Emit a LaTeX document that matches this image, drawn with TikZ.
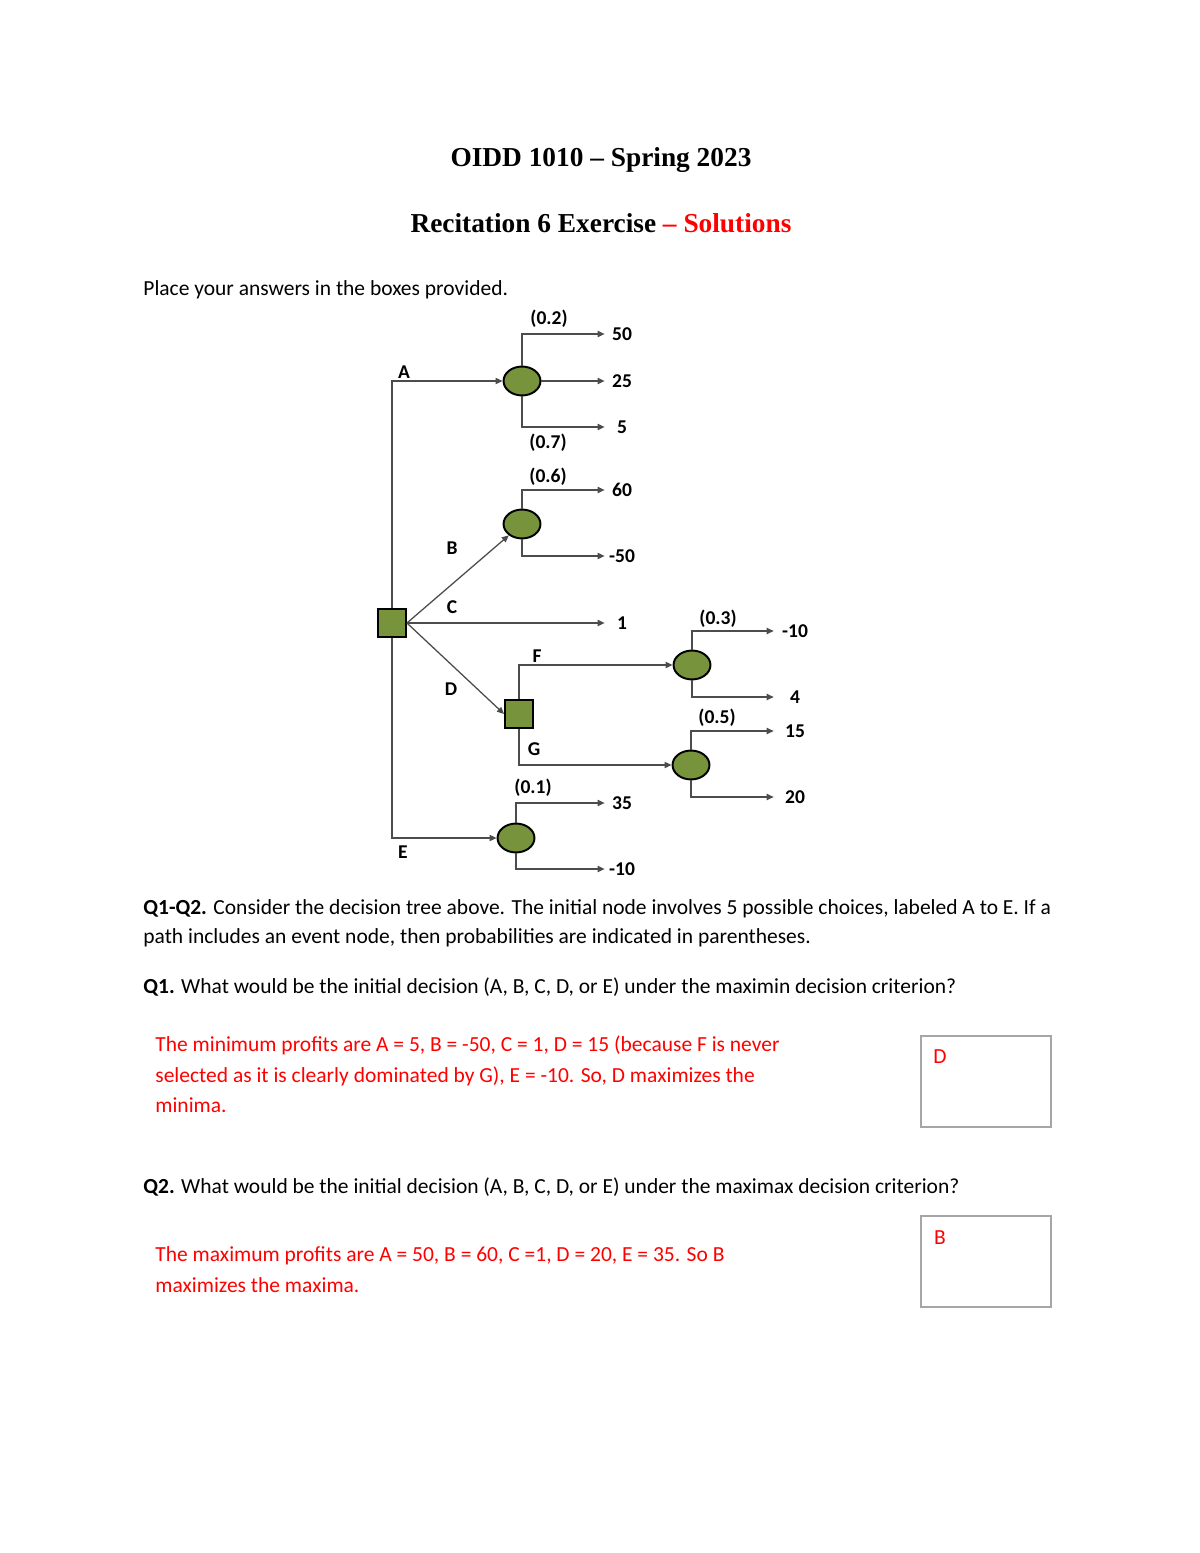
\documentclass[tikz,border=0pt]{standalone}
\usepackage{fontspec}
\setmainfont{Carlito}
\newfontfamily\titlefont{Liberation Serif}
\usetikzlibrary{positioning,arrows.meta,shapes.geometric}
\definecolor{treegreen}{RGB}{119,147,60}
\definecolor{treeline}{gray}{0.3}
\definecolor{boxgrey}{gray}{0.65}
\definecolor{solred}{RGB}{255,0,0}
\tikzset{
  decnode/.style={draw,line width=1pt,fill=treegreen,minimum size=14.3pt,inner sep=0pt},
  chnode/.style={draw,line width=1pt,fill=treegreen,ellipse,minimum width=18.9pt,
                 minimum height=14.8pt,inner sep=0pt},
  ln/.style={-{Triangle[length=3.6pt,width=3.2pt]},treeline,line width=0.65pt},
  pay/.style={font=\fontsize{10}{12}\selectfont\bfseries,minimum width=17.4pt,inner sep=1pt},
  payr/.style={pay,minimum width=21.4pt},
  prob/.style={font=\fontsize{10}{12}\selectfont\bfseries,inner sep=1pt},
  lbl/.style={font=\fontsize{10}{12}\selectfont\bfseries,inner sep=1pt},
  txt/.style={anchor=base west,font=\fontsize{11}{13}\selectfont,inner sep=0pt},
  soltxt/.style={txt,text=solred},
  ansbox/.style={draw=boxgrey,line width=1.2pt,anchor=north west,minimum width=66.3pt,
                 minimum height=46.4pt,inner sep=0pt},
}

\begin{document}
\begin{tikzpicture}[x=0.0179933cm,y=-0.0179933cm,
  head/.style={font=\titlefont\fontsize{14}{17}\selectfont\bfseries,inner sep=0pt}]
\useasboundingbox[fill=white] (0,0) rectangle (1200,1553);

\node[head] (title) at (601,160) {OIDD 1010 – Spring 2023};
\node[head] (subtitle) at (601,223) {Recitation 6 Exercise {\color{solred}– Solutions}};
\node[txt] (place) at (143,296) {Place your answers in the boxes provided.};

% decision tree
\node[decnode] (root) at (392,623) {};
\node[chnode] (chA) at (522,381) {};
\node[chnode] (chB) at (522,524) {};
\node[decnode] (sqD) at (519,714) {};
\node[chnode] (chF) at (692,665) {};
\node[chnode] (chG) at (691,765) {};
\node[chnode] (chE) at (516,838) {};

\node[pay] (oA1) at (622,334) {50};
\node[pay] (oA2) at (622,381) {25};
\node[pay] (oA3) at (622,427) {5};
\node[pay] (oB1) at (622,490) {60};
\node[pay] (oB2) at (622,556) {-50};
\node[pay] (oC)  at (622,623) {1};
\node[payr] (oF1) at (795,631) {-10};
\node[payr] (oF2) at (795,697) {4};
\node[payr] (oG1) at (795,731) {15};
\node[payr] (oG2) at (795,797) {20};
\node[pay] (oE1) at (622,803) {35};
\node[pay] (oE2) at (622,869) {-10};

\draw[ln] (root.north) |- (chA.west);
\draw[ln] (root.east) -- (chB);
\draw[ln] (root.east) -- (oC.west);
\draw[ln] (root.east) -- (sqD.west);
\draw[ln] (root.south) |- (chE.west);
\draw[ln] (chA.north) |- (oA1.west);
\draw[ln] (chA.east) -- (oA2.west);
\draw[ln] (chA.south) |- (oA3.west);
\draw[ln] (chB.north) |- (oB1.west);
\draw[ln] (chB.south) |- (oB2.west);
\draw[ln] (sqD.north) |- (chF.west);
\draw[ln] (sqD.south) |- (chG.west);
\draw[ln] (chF.north) |- (oF1.west);
\draw[ln] (chF.south) |- (oF2.west);
\draw[ln] (chG.north) |- (oG1.west);
\draw[ln] (chG.south) |- (oG2.west);
\draw[ln] (chE.north) |- (oE1.west);
\draw[ln] (chE.south) |- (oE2.west);

\node[lbl] (lA) at (404,372) {A};
\node[lbl] (lB) at (452,548) {B};
\node[lbl] (lC) at (452,607) {C};
\node[lbl] (lD) at (451,689) {D};
\node[lbl] (lE) at (403,852) {E};
\node[lbl] (lF) at (537,656) {F};
\node[lbl] (lG) at (534,749) {G};

\node[prob] (pA1) at (549,319) {(0.2)};
\node[prob] (pA3) at (548,443) {(0.7)};
\node[prob] (pB1) at (548,477) {(0.6)};
\node[prob] (pF1) at (718,619) {(0.3)};
\node[prob] (pG1) at (717,718) {(0.5)};
\node[prob] (pE1) at (533,788) {(0.1)};

% questions and answers
\node[txt] (intro1) at (143,914) {\textbf{Q1-Q2.} Consider the decision tree above. The initial node involves 5 possible choices, labeled A to E. If a};
\node[txt] (intro2) at (143,943) {path includes an event node, then probabilities are indicated in parentheses.};
\node[txt] (q1) at (143,993) {\textbf{Q1.} What would be the initial decision (A, B, C, D, or E) under the maximin decision criterion?};
\node[soltxt] (sol1a) at (155,1051) {The minimum profits are A = 5, B = -50, C = 1, D = 15 (because F is never};
\node[soltxt] (sol1b) at (155,1082) {selected as it is clearly dominated by G), E = -10. So, D maximizes the};
\node[soltxt] (sol1c) at (155,1112) {minima.};
\node[ansbox] (box1) at (920,1035) {};
\node[soltxt,anchor=center] (ans1) at (940,1057) {D};

\node[txt] (q2) at (143,1193) {\textbf{Q2.} What would be the initial decision (A, B, C, D, or E) under the maximax decision criterion?};
\node[soltxt] (sol2a) at (155,1261) {The maximum profits are A = 50, B = 60, C =1, D = 20, E = 35. So B};
\node[soltxt] (sol2b) at (155,1292) {maximizes the maxima.};
\node[ansbox] (box2) at (920,1215) {};
\node[soltxt,anchor=center] (ans2) at (940,1238) {B};

\end{tikzpicture}
\end{document}
